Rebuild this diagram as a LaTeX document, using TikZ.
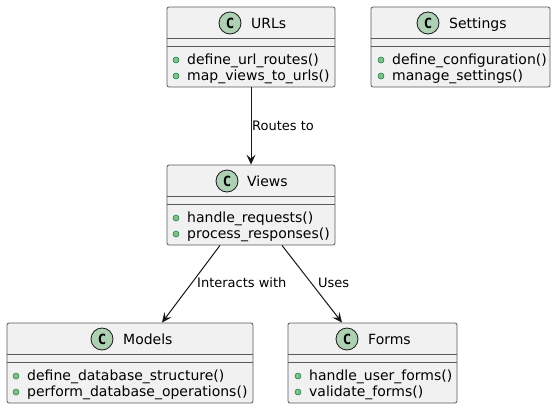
\documentclass[tikz,border=0pt]{standalone}
\usepackage{fontspec}
\setmainfont{DejaVu Sans}
\newfontfamily\badgefont{DejaVu Sans Mono}
\usepackage{tikz}
\usetikzlibrary{arrows.meta}
\definecolor{boxfill}{HTML}{F1F1F1}
\definecolor{boxline}{HTML}{5A5A5A}
\definecolor{badgefill}{HTML}{ADD1B2}
\definecolor{dotfill}{HTML}{84BE84}
\definecolor{dotline}{HTML}{038048}
\definecolor{arrowcolor}{HTML}{181818}
\newcommand{\methodsize}{\fontsize{14}{16}\selectfont}
\newcommand{\labelsize}{\fontsize{13}{15}\selectfont}
\tikzset{
  classbox/.style={draw=boxline, fill=boxfill, line width=0.8pt, rounded corners=2pt, inner sep=0pt},
  sepline/.style={draw=boxline, line width=0.8pt},
  badge/.style={circle, draw=arrowcolor, fill=badgefill, line width=0.8pt, minimum size=22pt, inner sep=0pt, font=\badgefont\bfseries\fontsize{14}{14}\selectfont},
  cname/.style={anchor=base west, inner sep=0pt, font=\methodsize},
  method/.style={anchor=base west, inner sep=0pt, font=\methodsize},
  dot/.style={circle, draw=dotline, fill=dotfill, line width=0.5pt, minimum size=6pt, inner sep=0pt},
  assoc/.style={draw=arrowcolor, line width=1pt, -{Stealth[length=10pt, width=9pt, inset=4pt]}},
  lbl/.style={anchor=base west, inner sep=0pt, font=\labelsize}
}

\begin{document}
\begin{tikzpicture}[x=1pt, y=-1pt]
\useasboundingbox (0,0) rectangle (557,408);
%URLs
\node[classbox, minimum width=168pt, minimum height=80pt] (urls) at (251,47) {};
\draw[sepline] ([yshift=-32pt]urls.north west) -- ([yshift=-32pt]urls.north east);
\draw[sepline] ([yshift=-40pt]urls.north west) -- ([yshift=-40pt]urls.north east);
\node[badge] (urlsC) at (230,23) {C};
\node[cname] (urlsT) at (251,28) {URLs};
\node[dot] (urlsD1) at (176,60) {};
\node[method] (urls1) at (187,64) {define\_url\_routes()};
\node[dot] (urlsD2) at (176,76) {};
\node[method] (urls2) at (187,80) {map\_views\_to\_urls()};
%Settings
\node[classbox, minimum width=179pt, minimum height=80pt] (settings) at (460.5,47) {};
\draw[sepline] ([yshift=-32pt]settings.north west) -- ([yshift=-32pt]settings.north east);
\draw[sepline] ([yshift=-40pt]settings.north west) -- ([yshift=-40pt]settings.north east);
\node[badge] (settingsC) at (428,23) {C};
\node[cname] (settingsT) at (449,28) {Settings};
\node[dot] (settingsD1) at (381,60) {};
\node[method] (settings1) at (392,64) {define\_configuration()};
\node[dot] (settingsD2) at (381,76) {};
\node[method] (settings2) at (392,80) {manage\_settings()};
%Views
\node[classbox, minimum width=168pt, minimum height=80pt] (views) at (251,205) {};
\draw[sepline] ([yshift=-32pt]views.north west) -- ([yshift=-32pt]views.north east);
\draw[sepline] ([yshift=-40pt]views.north west) -- ([yshift=-40pt]views.north east);
\node[badge] (viewsC) at (227,181) {C};
\node[cname] (viewsT) at (247,186) {Views};
\node[dot] (viewsD1) at (176,218) {};
\node[method] (views1) at (187,222) {handle\_requests()};
\node[dot] (viewsD2) at (176,234) {};
\node[method] (views2) at (187,238) {process\_responses()};
%Models
\node[classbox, minimum width=246pt, minimum height=80pt] (models) at (130,363) {};
\draw[sepline] ([yshift=-32pt]models.north west) -- ([yshift=-32pt]models.north east);
\draw[sepline] ([yshift=-40pt]models.north west) -- ([yshift=-40pt]models.north east);
\node[badge] (modelsC) at (102,339) {C};
\node[cname] (modelsT) at (123,344) {Models};
\node[dot] (modelsD1) at (16,376) {};
\node[method] (models1) at (27,380) {define\_database\_structure()};
\node[dot] (modelsD2) at (16,392) {};
\node[method] (models2) at (27,396) {perform\_database\_operations()};
%Forms
\node[classbox, minimum width=169pt, minimum height=80pt] (forms) at (372.5,363) {};
\draw[sepline] ([yshift=-32pt]forms.north west) -- ([yshift=-32pt]forms.north east);
\draw[sepline] ([yshift=-40pt]forms.north west) -- ([yshift=-40pt]forms.north east);
\node[badge] (formsC) at (347,339) {C};
\node[cname] (formsT) at (368,344) {Forms};
\node[dot] (formsD1) at (298,376) {};
\node[method] (forms1) at (309,380) {handle\_user\_forms()};
\node[dot] (formsD2) at (298,392) {};
\node[method] (forms2) at (309,396) {validate\_forms()};
%links
\draw[assoc] (urls) -- (views);
\draw[assoc] ([xshift=-31pt]views.south) -- ([xshift=32pt]models.north);
\draw[assoc] ([xshift=31pt]views.south) -- ([xshift=-30.5pt]forms.north);
\node[lbl] (routes) at (252,130) {Routes to};
\node[lbl] (interacts) at (197,287) {Interacts with};
\node[lbl] (uses) at (318,287) {Uses};
\end{tikzpicture}
\end{document}
